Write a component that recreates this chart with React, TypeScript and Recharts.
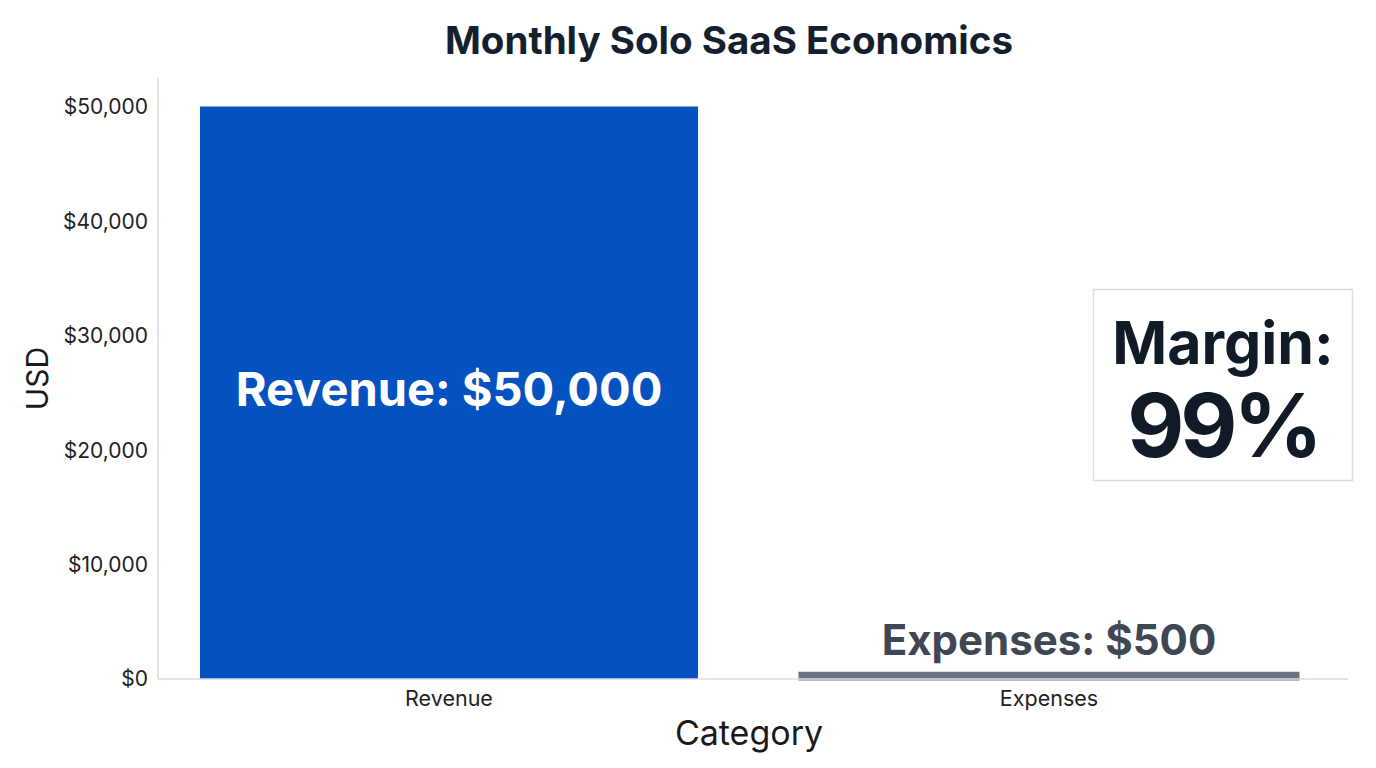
import React from 'react';
import { BarChart, Bar, XAxis, YAxis, Cell, LabelList, Label, Customized } from 'recharts';

const categories = ['Revenue', 'Expenses'];
const values = [50000, 500];
const barLabels = ['Revenue: $50,000', 'Expenses: $500'];
const yTicks = [0, 10000, 20000, 30000, 40000, 50000];
const barColors = ['#0352BF', '#6B7280'];
const marginText = ['Margin:', '99%'];
const title = 'Monthly Solo SaaS Economics';

const data = categories.map((c, i) => ({ category: c, value: values[i], label: barLabels[i] }));

const FONT = 'Inter, "Noto Sans", sans-serif';

const fmt = (v: number) => '$' + v.toLocaleString('en-US');

const BarLabel = (props: any) => {
  const { x, y, width, height, index } = props;
  const cx = x + width / 2;
  if (index === 0) {
    return (
      <text x={cx} y={y + height / 2 - 4} textAnchor="middle" dominantBaseline="central"
        fill="#FFFFFF" fontSize={47} fontWeight={700} fontFamily={FONT}>
        {barLabels[index]}
      </text>
    );
  }
  return (
    <text x={cx} y={y - 18} textAnchor="middle" fill="#3F4654"
      fontSize={42} fontWeight={700} fontFamily={FONT}>
      {barLabels[index]}
    </text>
  );
};

const Overlay = () => (
  <g>
    <text x={729} y={54} textAnchor="middle" fill="#14202E" fontSize={38.5} fontWeight={700} fontFamily={FONT}>
      {title}
    </text>
    <rect x={1093.5} y={289.5} width={259} height={191} fill="#FFFFFF" stroke="#DDDDDD" strokeWidth={1.5} />
    <text x={1223} y={364} textAnchor="middle" fill="#111A27" fontSize={59} fontWeight={700} fontFamily={FONT}>
      {marginText[0]}
    </text>
    <text x={1223} y={457} textAnchor="middle" fill="#111A27" fontSize={88} fontWeight={700} fontFamily={FONT}
      letterSpacing={-4}>
      {marginText[1]}
    </text>
  </g>
);

export default function App() {
  return (
    <div style={{ position: 'absolute', left: 0, top: 0, width: 1376, height: 768, background: '#fff' }}>
      <BarChart width={1376} height={768} data={data}
        margin={{ top: 78, right: 28, bottom: 0, left: 58 }}>
        <XAxis dataKey="category" axisLine={{ stroke: '#DDDDDD', strokeWidth: 1.5 }} tickLine={false}
          padding={{ left: -9, right: -1 }}
          tickSize={0} tickMargin={12} tick={{ fontSize: 21.5, fill: '#222222', fontFamily: FONT }} height={89}>
          <Label value="Category" position="insideBottom" offset={23} dx={-4} fontSize={34} fill="#1A1A1A" fontFamily={FONT} />
        </XAxis>
        <YAxis domain={[0, 52500]} ticks={yTicks} tickFormatter={fmt} width={100}
          axisLine={{ stroke: '#DDDDDD', strokeWidth: 1.5 }} tickLine={false} tickSize={0} tickMargin={10}
          tick={{ fontSize: 21, fill: '#222222', fontFamily: FONT }} interval={0}>
          <Label value="USD" angle={-90} position="insideLeft" offset={-21} fontSize={30} fill="#1A1A1A" fontFamily={FONT}
            style={{ textAnchor: 'middle' }} />
        </YAxis>
        <Bar dataKey="value" barSize={498} isAnimationActive={false}>
          {data.map((d, i) => (
            <Cell key={d.category} fill={barColors[i]} stroke={barColors[i]} strokeWidth={i === 1 ? 3 : 0} />
          ))}
          <LabelList dataKey="label" content={BarLabel} />
        </Bar>
        <Customized component={Overlay} />
      </BarChart>
    </div>
  );
}
